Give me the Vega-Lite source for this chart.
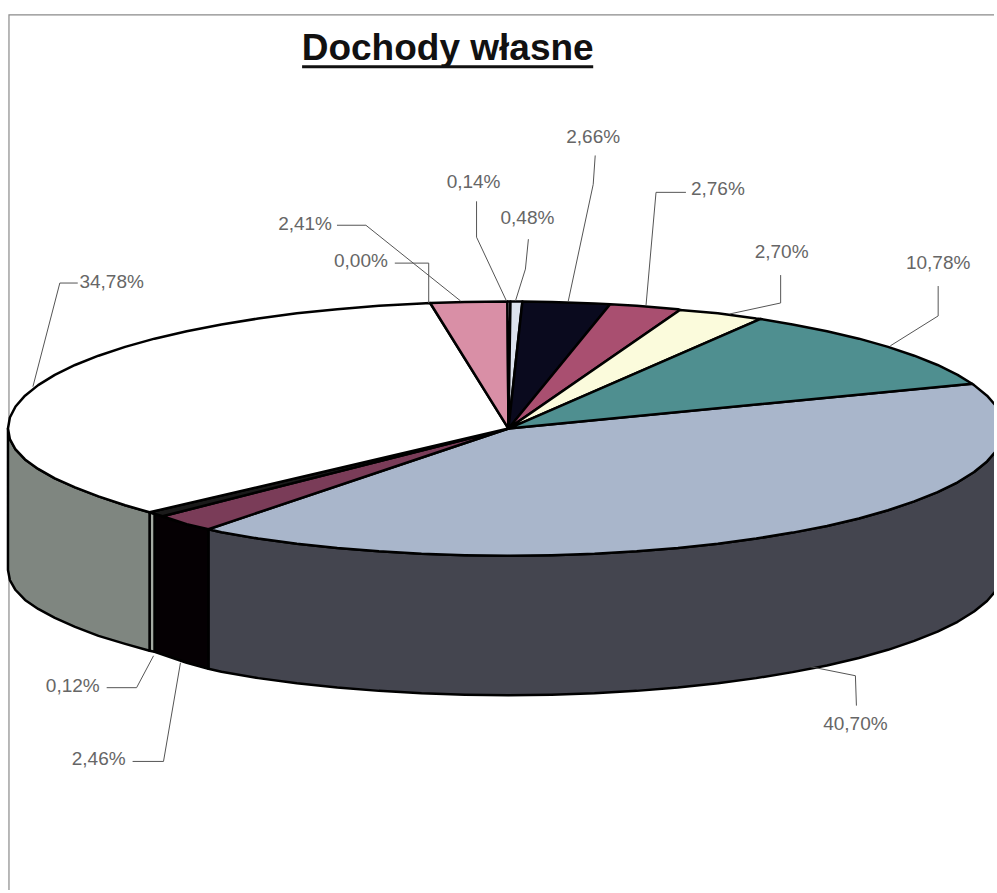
{
"$schema":"https://vega.github.io/schema/vega-lite/v6.json",
"width":997,"height":893,"padding":0,
"autosize":{"type":"fit","contains":"padding"},
"background":"white",
"view":{"stroke":null},
"config":{"style":{"cell":{"stroke":null}}},
"datasets":{
"frame":[{"x":9,"y":893},{"x":9,"y":15},{"x":997,"y":15}],
"slices":[
{"s":"side 40,70%","x":1007,"y":430},{"s":"side 40,70%","x":1005,"y":441.1},{"s":"side 40,70%","x":999.5,"y":452.1},{"s":"side 40,70%","x":990,"y":463},{"s":"side 40,70%","x":977,"y":473.6},{"s":"side 40,70%","x":960.5,"y":483.9},{"s":"side 40,70%","x":940.4,"y":493.8},{"s":"side 40,70%","x":917,"y":503.1},{"s":"side 40,70%","x":890.7,"y":512},{"s":"side 40,70%","x":861.5,"y":520.2},{"s":"side 40,70%","x":829.5,"y":527.7},{"s":"side 40,70%","x":795,"y":534.4},{"s":"side 40,70%","x":758.5,"y":540.4},{"s":"side 40,70%","x":720,"y":545.6},{"s":"side 40,70%","x":680,"y":549.8},{"s":"side 40,70%","x":638.6,"y":553.2},{"s":"side 40,70%","x":596.3,"y":555.6},{"s":"side 40,70%","x":553.4,"y":557},{"s":"side 40,70%","x":510,"y":557.5},{"s":"side 40,70%","x":466.2,"y":557},{"s":"side 40,70%","x":422.8,"y":555.6},{"s":"side 40,70%","x":380.1,"y":553.2},{"s":"side 40,70%","x":338.3,"y":549.8},{"s":"side 40,70%","x":297.8,"y":545.6},{"s":"side 40,70%","x":259,"y":540.4},{"s":"side 40,70%","x":222.1,"y":534},{"s":"side 40,70%","x":209,"y":531},{"s":"side 40,70%","x":209,"y":671},{"s":"side 40,70%","x":222.1,"y":674},{"s":"side 40,70%","x":259,"y":680.4},{"s":"side 40,70%","x":297.8,"y":685.6},{"s":"side 40,70%","x":338.3,"y":689.8},{"s":"side 40,70%","x":380.1,"y":693.2},{"s":"side 40,70%","x":422.8,"y":695.6},{"s":"side 40,70%","x":466.2,"y":697},{"s":"side 40,70%","x":510,"y":697.5},{"s":"side 40,70%","x":553.4,"y":697},{"s":"side 40,70%","x":596.3,"y":695.6},{"s":"side 40,70%","x":638.6,"y":693.2},{"s":"side 40,70%","x":680,"y":689.8},{"s":"side 40,70%","x":720,"y":685.6},{"s":"side 40,70%","x":758.5,"y":680.4},{"s":"side 40,70%","x":795,"y":674.4},{"s":"side 40,70%","x":829.5,"y":667.7},{"s":"side 40,70%","x":861.5,"y":660.2},{"s":"side 40,70%","x":890.7,"y":652},{"s":"side 40,70%","x":917,"y":643.1},{"s":"side 40,70%","x":940.4,"y":633.8},{"s":"side 40,70%","x":960.5,"y":623.9},{"s":"side 40,70%","x":977,"y":613.6},{"s":"side 40,70%","x":990,"y":603},{"s":"side 40,70%","x":999.5,"y":592.1},{"s":"side 40,70%","x":1005,"y":581.1},{"s":"side 40,70%","x":1007,"y":570},{"s":"side 40,70%","x":1007,"y":430},
{"s":"side 2,46%","x":209,"y":531},{"s":"side 2,46%","x":187.3,"y":526},{"s":"side 2,46%","x":155,"y":515.5},{"s":"side 2,46%","x":155,"y":654},{"s":"side 2,46%","x":187.3,"y":665},{"s":"side 2,46%","x":209,"y":671},{"s":"side 2,46%","x":209,"y":531},
{"s":"side 0,12%","x":155,"y":515.5},{"s":"side 0,12%","x":150,"y":514},{"s":"side 0,12%","x":150,"y":653},{"s":"side 0,12%","x":155,"y":654},{"s":"side 0,12%","x":155,"y":515.5},
{"s":"side 34,78%","x":150,"y":514},{"s":"side 34,78%","x":125.5,"y":507},{"s":"side 34,78%","x":98.8,"y":498},{"s":"side 34,78%","x":75.3,"y":489},{"s":"side 34,78%","x":55,"y":480},{"s":"side 34,78%","x":38.3,"y":470.5},{"s":"side 34,78%","x":25.1,"y":461},{"s":"side 34,78%","x":15.6,"y":451},{"s":"side 34,78%","x":9.9,"y":440.6},{"s":"side 34,78%","x":8,"y":430},{"s":"side 34,78%","x":8,"y":572},{"s":"side 34,78%","x":9.9,"y":582},{"s":"side 34,78%","x":15.6,"y":592},{"s":"side 34,78%","x":25.1,"y":602},{"s":"side 34,78%","x":38.3,"y":611},{"s":"side 34,78%","x":55,"y":620},{"s":"side 34,78%","x":75.3,"y":629},{"s":"side 34,78%","x":98.8,"y":638},{"s":"side 34,78%","x":125.5,"y":646},{"s":"side 34,78%","x":150,"y":653},{"s":"side 34,78%","x":150,"y":514},
{"s":"top 40,70%","x":510,"y":430},{"s":"top 40,70%","x":975,"y":385},{"s":"top 40,70%","x":977,"y":386.4},{"s":"top 40,70%","x":990,"y":397},{"s":"top 40,70%","x":999.5,"y":407.9},{"s":"top 40,70%","x":1005,"y":418.9},{"s":"top 40,70%","x":1007,"y":430},{"s":"top 40,70%","x":1005,"y":441.1},{"s":"top 40,70%","x":999.5,"y":452.1},{"s":"top 40,70%","x":990,"y":463},{"s":"top 40,70%","x":977,"y":473.6},{"s":"top 40,70%","x":960.5,"y":483.9},{"s":"top 40,70%","x":940.4,"y":493.8},{"s":"top 40,70%","x":917,"y":503.1},{"s":"top 40,70%","x":890.7,"y":512},{"s":"top 40,70%","x":861.5,"y":520.2},{"s":"top 40,70%","x":829.5,"y":527.7},{"s":"top 40,70%","x":795,"y":534.4},{"s":"top 40,70%","x":758.5,"y":540.4},{"s":"top 40,70%","x":720,"y":545.6},{"s":"top 40,70%","x":680,"y":549.8},{"s":"top 40,70%","x":638.6,"y":553.2},{"s":"top 40,70%","x":596.3,"y":555.6},{"s":"top 40,70%","x":553.4,"y":557},{"s":"top 40,70%","x":510,"y":557.5},{"s":"top 40,70%","x":466.2,"y":557},{"s":"top 40,70%","x":422.8,"y":555.6},{"s":"top 40,70%","x":380.1,"y":553.2},{"s":"top 40,70%","x":338.3,"y":549.8},{"s":"top 40,70%","x":297.8,"y":545.6},{"s":"top 40,70%","x":259,"y":540.4},{"s":"top 40,70%","x":222.1,"y":534},{"s":"top 40,70%","x":209,"y":531},{"s":"top 40,70%","x":510,"y":430},
{"s":"top 2,46%","x":510,"y":430},{"s":"top 2,46%","x":209,"y":531},{"s":"top 2,46%","x":187.3,"y":526},{"s":"top 2,46%","x":163,"y":518},{"s":"top 2,46%","x":510,"y":430},
{"s":"top 0,12%","x":510,"y":430},{"s":"top 0,12%","x":163,"y":518},{"s":"top 0,12%","x":150,"y":514},{"s":"top 0,12%","x":510,"y":430},
{"s":"top 34,78%","x":510,"y":430},{"s":"top 34,78%","x":150,"y":514},{"s":"top 34,78%","x":125.5,"y":507},{"s":"top 34,78%","x":98.8,"y":498},{"s":"top 34,78%","x":75.3,"y":489},{"s":"top 34,78%","x":55,"y":480},{"s":"top 34,78%","x":38.3,"y":470.5},{"s":"top 34,78%","x":25.1,"y":461},{"s":"top 34,78%","x":15.6,"y":451},{"s":"top 34,78%","x":9.9,"y":440.6},{"s":"top 34,78%","x":8,"y":430},{"s":"top 34,78%","x":9.9,"y":418.9},{"s":"top 34,78%","x":15.6,"y":407.9},{"s":"top 34,78%","x":25.1,"y":397},{"s":"top 34,78%","x":38.3,"y":386.4},{"s":"top 34,78%","x":55,"y":376.1},{"s":"top 34,78%","x":75.3,"y":366.2},{"s":"top 34,78%","x":98.8,"y":356.9},{"s":"top 34,78%","x":125.5,"y":348},{"s":"top 34,78%","x":155,"y":339.8},{"s":"top 34,78%","x":187.3,"y":332.3},{"s":"top 34,78%","x":222.1,"y":325.6},{"s":"top 34,78%","x":259,"y":319.6},{"s":"top 34,78%","x":297.8,"y":314.4},{"s":"top 34,78%","x":338.3,"y":310.2},{"s":"top 34,78%","x":380.1,"y":306.8},{"s":"top 34,78%","x":422.8,"y":304.4},{"s":"top 34,78%","x":431.5,"y":304},{"s":"top 34,78%","x":510,"y":430},
{"s":"top 2,41%","x":510,"y":430},{"s":"top 2,41%","x":431.5,"y":304},{"s":"top 2,41%","x":466.2,"y":303},{"s":"top 2,41%","x":509,"y":302.5},{"s":"top 2,41%","x":510,"y":430},
{"s":"top 0,14%","x":510,"y":430},{"s":"top 0,14%","x":509,"y":302.5},{"s":"top 0,14%","x":512,"y":302.5},{"s":"top 0,14%","x":510,"y":430},
{"s":"top 0,48%","x":510,"y":430},{"s":"top 0,48%","x":512,"y":302.5},{"s":"top 0,48%","x":524,"y":302.5},{"s":"top 0,48%","x":510,"y":430},
{"s":"top 2,66%","x":510,"y":430},{"s":"top 2,66%","x":524,"y":302.5},{"s":"top 2,66%","x":553.4,"y":303},{"s":"top 2,66%","x":596.3,"y":304.4},{"s":"top 2,66%","x":612,"y":305.3},{"s":"top 2,66%","x":510,"y":430},
{"s":"top 2,76%","x":510,"y":430},{"s":"top 2,76%","x":612,"y":305.3},{"s":"top 2,76%","x":638.6,"y":306.8},{"s":"top 2,76%","x":680,"y":310.2},{"s":"top 2,76%","x":682,"y":311},{"s":"top 2,76%","x":510,"y":430},
{"s":"top 2,70%","x":510,"y":430},{"s":"top 2,70%","x":682,"y":311},{"s":"top 2,70%","x":720,"y":314.4},{"s":"top 2,70%","x":758.5,"y":319.6},{"s":"top 2,70%","x":763,"y":320},{"s":"top 2,70%","x":510,"y":430},
{"s":"top 10,78%","x":510,"y":430},{"s":"top 10,78%","x":763,"y":320},{"s":"top 10,78%","x":795,"y":325.6},{"s":"top 10,78%","x":829.5,"y":332.3},{"s":"top 10,78%","x":861.5,"y":339.8},{"s":"top 10,78%","x":890.7,"y":348},{"s":"top 10,78%","x":917,"y":356.9},{"s":"top 10,78%","x":940.4,"y":366.2},{"s":"top 10,78%","x":960.5,"y":376.1},{"s":"top 10,78%","x":975,"y":385},{"s":"top 10,78%","x":510,"y":430}
],
"leaders":[
{"l":"34,78%","x":33,"y":388},{"l":"34,78%","x":60,"y":284},{"l":"34,78%","x":78,"y":284},
{"l":"2,41%","x":338,"y":226},{"l":"2,41%","x":367,"y":226},{"l":"2,41%","x":462,"y":302},
{"l":"0,00%","x":396,"y":264},{"l":"0,00%","x":430,"y":264},{"l":"0,00%","x":430,"y":304},
{"l":"0,14%","x":478,"y":202},{"l":"0,14%","x":478,"y":238},{"l":"0,14%","x":508,"y":302},
{"l":"0,48%","x":530,"y":240},{"l":"0,48%","x":527,"y":270},{"l":"0,48%","x":517,"y":302},
{"l":"2,66%","x":597,"y":156},{"l":"2,66%","x":595,"y":185},{"l":"2,66%","x":570,"y":302},
{"l":"2,76%","x":688,"y":193},{"l":"2,76%","x":658,"y":193},{"l":"2,76%","x":648,"y":306},
{"l":"2,70%","x":783,"y":276},{"l":"2,70%","x":783,"y":304},{"l":"2,70%","x":732,"y":315},
{"l":"10,78%","x":941,"y":287},{"l":"10,78%","x":941,"y":317},{"l":"10,78%","x":893,"y":347},
{"l":"40,70%","x":859,"y":708},{"l":"40,70%","x":858,"y":678},{"l":"40,70%","x":813,"y":669},
{"l":"0,12%","x":107,"y":690},{"l":"0,12%","x":137,"y":690},{"l":"0,12%","x":154,"y":658},
{"l":"2,46%","x":133,"y":764},{"l":"2,46%","x":164,"y":764},{"l":"2,46%","x":181,"y":665}
],
"labels":[
{"l":"34,78%","x":112,"y":283},{"l":"2,41%","x":306,"y":225},{"l":"0,00%","x":362,"y":262},{"l":"0,14%","x":475,"y":183},{"l":"0,48%","x":529,"y":219},{"l":"2,66%","x":595,"y":137},{"l":"2,76%","x":720,"y":190},{"l":"2,70%","x":784,"y":253},{"l":"10,78%","x":941,"y":264},{"l":"40,70%","x":858,"y":726},{"l":"0,12%","x":73,"y":688},{"l":"2,46%","x":99,"y":762}
],
"title":[{"t":"Dochody własne","x":449,"y":60}],
"underline":[{"x":303,"x2":595,"y":67}]
},
"encoding":{
"x":{"field":"x","type":"quantitative","axis":null,"scale":{"domain":[0,997],"nice":false,"zero":false}},
"y":{"field":"y","type":"quantitative","axis":null,"scale":{"domain":[893,0],"nice":false,"zero":false}}
},
"layer":[
{"data":{"name":"frame"},"transform":[{"window":[{"op":"row_number","as":"i"}]}],"mark":{"type":"line","stroke":"#8a8a8a","strokeWidth":1.2},"encoding":{"order":{"field":"i","type":"quantitative"}}},
{"data":{"name":"slices"},"transform":[{"window":[{"op":"row_number","as":"i"}]}],
 "mark":{"type":"line","clip":true,"stroke":"#000000","strokeWidth":2.5,"strokeJoin":"round"},
 "encoding":{"order":{"field":"i","type":"quantitative"},"detail":{"field":"s"},
  "fill":{"field":"s","type":"nominal","legend":null,"scale":{
   "domain":["side 40,70%","side 2,46%","side 0,12%","side 34,78%","top 40,70%","top 2,46%","top 0,12%","top 34,78%","top 2,41%","top 0,14%","top 0,48%","top 2,66%","top 2,76%","top 2,70%","top 10,78%"],
   "range":["#44454f","#050003","#a4aaa2","#7f8680","#a9b6cb","#7a3c58","#1a1a1a","#ffffff","#d98fa6","#e8ecf4","#dde3ee","#0a0a1e","#a94f70","#fbfbdc","#4f8f90"]}}}},
{"data":{"name":"leaders"},"transform":[{"window":[{"op":"row_number","as":"i"}]}],"mark":{"type":"line","stroke":"#555555","strokeWidth":1},"encoding":{"order":{"field":"i","type":"quantitative"},"detail":{"field":"l"}}},
{"data":{"name":"labels"},"mark":{"type":"text","font":"Liberation Sans","fontSize":19,"fill":"#666666","align":"center","baseline":"middle"},"encoding":{"text":{"field":"l"}}},
{"data":{"name":"title"},"mark":{"type":"text","font":"Liberation Sans","fontWeight":"bold","fontSize":37,"fill":"#111111","align":"center","baseline":"alphabetic"},"encoding":{"text":{"field":"t"}}},
{"data":{"name":"underline"},"mark":{"type":"rule","stroke":"#111111","strokeWidth":3},"encoding":{"x2":{"field":"x2"}}}
]
}
